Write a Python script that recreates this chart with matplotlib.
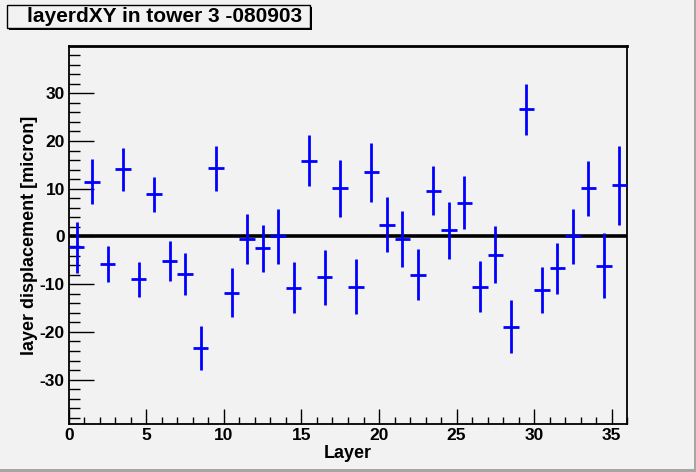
import numpy as np
import matplotlib
matplotlib.use("Agg")
from matplotlib import pyplot as plt
from matplotlib.ticker import MultipleLocator
from matplotlib.patches import Rectangle

plt.rcParams["font.family"] = ["Liberation Sans", "DejaVu Sans"]
plt.rcParams["axes.unicode_minus"] = False

layers = np.arange(36) + 0.5
displacement = [-2.3, 11.5, -5.7, 14.1, -9.0, 8.8, -5.2, -7.8, -23.3, 14.3,
                -11.8, -0.5, -2.5, 0.0, -10.7, 15.9, -8.6, 10.1, -10.5, 13.4,
                2.5, -0.5, -8.0, 9.6, 1.3, 7.1, -10.5, -3.8, -18.9, 26.6,
                -11.3, -6.7, 0.0, 10.1, -6.1, 10.7]
errors = [5.4, 4.7, 3.8, 4.5, 3.7, 3.7, 4.2, 4.4, 4.6, 4.7,
          5.1, 5.2, 5.0, 5.7, 5.35, 5.3, 5.7, 6.0, 5.7, 6.2,
          5.7, 5.9, 5.3, 5.1, 6.0, 5.6, 5.4, 5.9, 5.6, 5.3,
          4.8, 5.3, 5.7, 5.8, 6.8, 8.2]

bg = "#f2f2f2"
fig = plt.figure(figsize=(6.96, 4.72), dpi=100, facecolor=bg)
ax = fig.add_axes([0.0991, 0.1017, 0.8018, 0.7998], facecolor=bg)

ax.axhline(0, color="black", lw=2.6, zorder=2)
ax.errorbar(layers, displacement, yerr=errors, xerr=0.5, fmt="none",
            ecolor="#0000ff", elinewidth=2, capsize=0, zorder=3)

ax.set_xlim(0, 36)
ax.set_ylim(-39.3, 39.8)
ax.xaxis.set_major_locator(MultipleLocator(5))
ax.xaxis.set_minor_locator(MultipleLocator(1))
ax.yaxis.set_major_locator(MultipleLocator(10))
ax.yaxis.set_minor_locator(MultipleLocator(2))
ax.tick_params(which="both", direction="in", top=False, right=False, width=1)
ax.tick_params(axis="y", which="major", length=18, labelsize=12.5, pad=3)
ax.tick_params(axis="y", which="minor", length=8)
ax.tick_params(axis="x", which="major", length=11, labelsize=12.5, pad=3)
ax.tick_params(axis="x", which="minor", length=5)
for lab in ax.get_xticklabels() + ax.get_yticklabels():
    lab.set_fontweight("bold")
for s in ax.spines.values():
    s.set_linewidth(1.3)
ax.spines["top"].set_linewidth(2)

ax.set_xlabel("Layer", fontsize=13, fontweight="bold", labelpad=1)
ax.set_ylabel("layer displacement [micron]", fontsize=13, fontweight="bold",
              labelpad=1)

# title box with thin shadow, ROOT style
fig.patches.append(Rectangle((9 / 696, 1 - 30 / 472), 303 / 696, 23 / 472,
                             transform=fig.transFigure, facecolor="black",
                             edgecolor="none"))
fig.patches.append(Rectangle((7 / 696, 1 - 28 / 472), 303 / 696, 23 / 472,
                             transform=fig.transFigure, facecolor=bg,
                             edgecolor="black", lw=1))
fig.text(27 / 696, 1 - 16.5 / 472, "layerdXY in tower 3 -080903",
         fontsize=15, fontweight="bold", ha="left", va="center")

# canvas bevel
fig.patches.append(Rectangle((0, 0), 1, 3 / 472, transform=fig.transFigure,
                             facecolor="#a6a6a6", edgecolor="none"))
fig.patches.append(Rectangle((1 - 2 / 696, 0), 2 / 696, 1, transform=fig.transFigure,
                             facecolor="#a6a6a6", edgecolor="none"))

fig.savefig("out.png", dpi=100, facecolor=bg)
